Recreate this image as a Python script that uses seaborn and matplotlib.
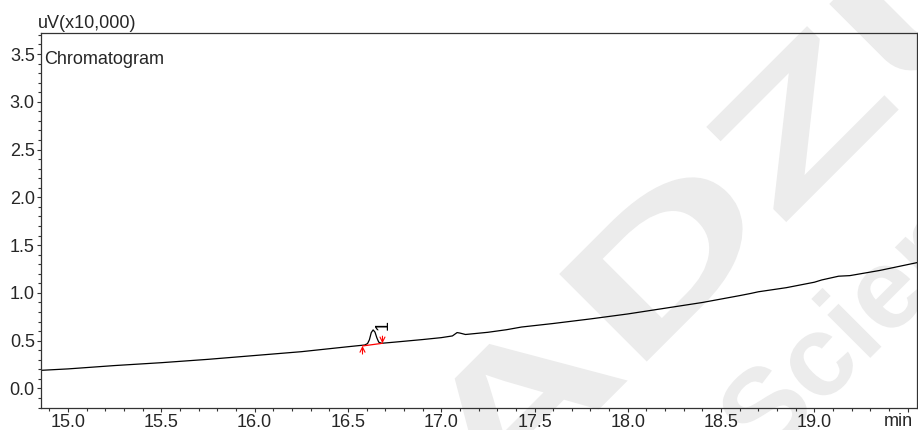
import numpy as np
import pandas as pd
import matplotlib
matplotlib.use("Agg")
import matplotlib.pyplot as plt
from matplotlib.ticker import MultipleLocator, FixedLocator, FixedFormatter
from matplotlib.textpath import TextPath
from matplotlib.patches import PathPatch
from matplotlib.font_manager import FontProperties
from matplotlib.transforms import Affine2D, IdentityTransform
import seaborn as sns

# Detector trace (retention time in min, signal in uV x10,000)
time_min = [14.855, 15.0, 15.25, 15.5, 15.75, 16.0, 16.25, 16.5, 16.59, 16.605,
            16.615, 16.625, 16.635, 16.645, 16.655, 16.665, 16.68, 16.75, 16.9,
            17.0, 17.06, 17.085, 17.1, 17.13, 17.25, 17.35, 17.43, 17.6, 17.8,
            18.0, 18.2, 18.4, 18.6, 18.66, 18.7, 18.85, 19.0, 19.04, 19.13,
            19.19, 19.35, 19.55]
signal = [0.19, 0.205, 0.24, 0.27, 0.305, 0.345, 0.385, 0.437, 0.455, 0.47,
          0.51, 0.585, 0.613, 0.59, 0.53, 0.485, 0.473, 0.485, 0.512,
          0.532, 0.55, 0.585, 0.58, 0.565, 0.588, 0.615, 0.643, 0.68, 0.728,
          0.78, 0.84, 0.90, 0.972, 0.995, 1.012, 1.055, 1.112, 1.136, 1.175,
          1.181, 1.235, 1.317]

# Integrated peak: start / end of the integration baseline and its label
peak_names = ["1"]
peak_start = [(16.578, 0.445)]
peak_end = [(16.685, 0.473)]
peak_label_pos = [(16.69, 0.665)]

x_ticks = [15.0, 15.5, 16.0, 16.5, 17.0, 17.5, 18.0, 18.5, 19.0, 19.5]
x_tick_labels = ["15.0", "15.5", "16.0", "16.5", "17.0", "17.5", "18.0",
                 "18.5", "19.0", ""]
x_unit = "min"
y_ticks = [0.0, 0.5, 1.0, 1.5, 2.0, 2.5, 3.0, 3.5]

sns.set_theme(style="white")
plt.rcParams["font.family"] = ["Liberation Sans", "DejaVu Sans"]
plt.rcParams["font.size"] = 13

fig = plt.figure(figsize=(9.18, 4.30), dpi=100)
fig.patch.set_facecolor("white")


def watermark(text, size, stretch, center_px, angle, weight, anchor_frac):
    """Rotated background lettering placed in figure pixels."""
    path = TextPath((0, 0), text, size=size,
                    prop=FontProperties(family="Liberation Sans", weight=weight))
    ext = path.get_extents()
    ax0 = ext.x0 + anchor_frac * ext.width
    ay0 = ext.y0 + 0.5 * ext.height
    tr = (Affine2D().translate(-ax0, -ay0).scale(stretch, 1.0)
          .rotate_deg(angle).translate(*center_px))
    patch = PathPatch(tr.transform_path(path), facecolor="#ececec",
                      edgecolor="none", transform=IdentityTransform(),
                      zorder=-5)
    fig.patches.append(patch)


watermark("ADZU", 180, 1.6, (722, 430 - 200), 45, "bold", 0.5)
watermark("Science", 115, 1.0, (765, 430 - 405), 45, "bold", 0.088)

ax = fig.add_axes([0.0447, 0.0512, 0.9542, 0.8721])
ax.set_facecolor("none")

df = pd.DataFrame({"time": time_min, "signal": signal})
sns.lineplot(data=df, x="time", y="signal", ax=ax, color="black",
             linewidth=0.9, estimator=None, sort=False)

# integration baseline and start/end markers
for name, (xs, ys), (xe, ye), (xl, yl) in zip(peak_names, peak_start,
                                               peak_end, peak_label_pos):
    ax.plot([xs, xe], [ys, ye], color="red", lw=0.9)
    ax.annotate("", xy=(xs, ys), xytext=(xs, ys - 0.085),
                arrowprops=dict(arrowstyle="->", color="red", lw=0.8,
                                mutation_scale=9, shrinkA=0, shrinkB=0))
    ax.annotate("", xy=(xe, ye), xytext=(xe, ye + 0.075),
                arrowprops=dict(arrowstyle="->", color="red", lw=0.8,
                                mutation_scale=9, shrinkA=0, shrinkB=0))
    ax.text(xl, yl, name, rotation=90, ha="center", va="center",
            fontsize=13, color="black")

ax.set_xlim(14.855, 19.55)
ax.set_ylim(-0.204, 3.72)

ax.xaxis.set_major_locator(FixedLocator(x_ticks))
ax.xaxis.set_major_formatter(FixedFormatter(x_tick_labels))
ax.xaxis.set_minor_locator(MultipleLocator(0.1))
ax.yaxis.set_major_locator(FixedLocator(y_ticks))
ax.yaxis.set_major_formatter(FixedFormatter([f"{v:.1f}" for v in y_ticks]))
ax.yaxis.set_minor_locator(MultipleLocator(0.1))

ax.tick_params(axis="both", which="major", direction="out", length=3,
               width=0.8, color="#333333", labelsize=13, pad=1.5,
               bottom=True, left=True)
ax.tick_params(axis="both", which="minor", direction="out", length=2,
               width=0.8, color="#333333", bottom=True, left=True)

for sp in ax.spines.values():
    sp.set_visible(True)
    sp.set_color("#333333")
    sp.set_linewidth(0.9)

ax.set_xlabel("")
ax.set_ylabel("")

# time unit at the end of the x axis
ax.annotate(x_unit, xy=(1, 0), xycoords="axes fraction", xytext=(-3, -3.4),
            textcoords="offset points", ha="right", va="top", fontsize=13)

fig.text(38 / 918, 1 - 28.5 / 430, "uV(x10,000)", ha="left", va="baseline",
         fontsize=13)
ax.text(0.003, 1 - (64.5 - 33) / 375, "Chromatogram", transform=ax.transAxes,
        ha="left", va="baseline", fontsize=13)

fig.savefig("out.png", dpi=100)
